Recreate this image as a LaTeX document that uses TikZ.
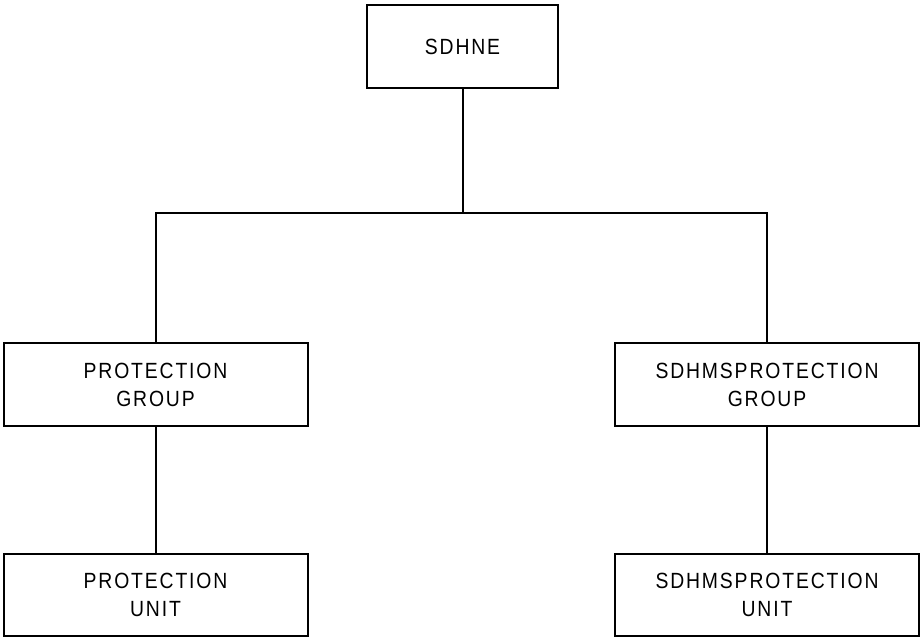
\documentclass[tikz,border=0pt]{standalone}
\usepackage{fontspec}
\setmainfont{Liberation Sans}
\newfontfamily\labelfont[FakeStretch=0.88,LetterSpace=8.5]{Liberation Sans}
\begin{document}
\begin{tikzpicture}[x=1pt,y=-1pt,
  box/.style={draw, line width=2pt, minimum width=#1, inner sep=0pt, align=center,
    font=\labelfont\fontsize{22}{28}\selectfont},
  box/.default=304pt,
  link/.style={line width=2pt}]
  \useasboundingbox (0,0) rectangle (921,642);
  \node[box=191pt, minimum height=83pt] (top) at (462.5,46.5) {SDHNE};
  \node[box, minimum height=83pt] (pg) at (155.5,384.5) {PROTECTION\\GROUP};
  \node[box, minimum height=83pt] (spg) at (767,384.5) {SDHMSPROTECTION\\GROUP};
  \node[box, minimum height=82pt] (pu) at (155.5,595) {PROTECTION\\UNIT};
  \node[box, minimum height=82pt] (spu) at (767,595) {SDHMSPROTECTION\\UNIT};
  \coordinate (j) at (462.5,213);
  \draw[link] (top.south) -- (j);
  \draw[link] (pg.north) |- (j) -| (spg.north);
  \draw[link] (pg.south) -- (pu.north);
  \draw[link] (spg.south) -- (spu.north);
\end{tikzpicture}
\end{document}
